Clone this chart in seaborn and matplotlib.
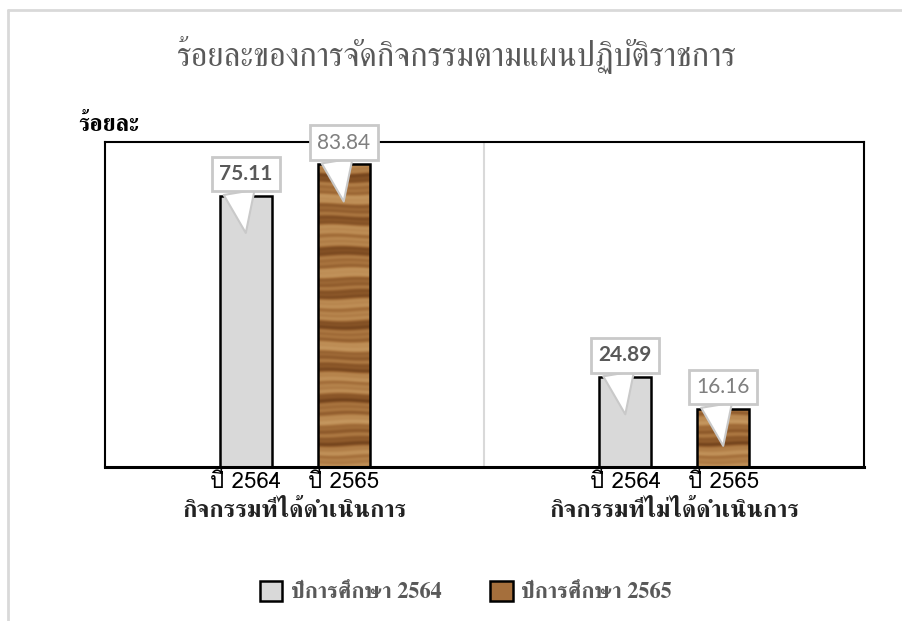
"""Recreate the Thai grouped bar chart of activity completion percentages."""

import matplotlib
matplotlib.use("Agg")

import numpy as np
import matplotlib.pyplot as plt
import pandas as pd
import seaborn as sns
from matplotlib import font_manager
from matplotlib.colors import LinearSegmentedColormap
from matplotlib.lines import Line2D
from matplotlib.patches import Rectangle

categories = ["กิจกรรมที่ได้ดำเนินการ", "กิจกรรมที่ไม่ได้ดำเนินการ"]
series_names = ["ปีการศึกษา 2564", "ปีการศึกษา 2565"]
short_names = ["ปี 2564", "ปี 2565"]
values_2564 = [75.11, 24.89]
values_2565 = [83.84, 16.16]
title = "ร้อยละของการจัดกิจกรรมตามแผนปฏิบัติราชการ"
y_label = "ร้อยละ"

GRAY_FILL = "#d9d9d9"
BROWN_FILL = "#9a6636"


def find_thai_fonts():
    """Return installed font families that contain Thai glyphs."""
    from fontTools.ttLib import TTFont
    found = []
    for entry in font_manager.fontManager.ttflist:
        if entry.name in found:
            continue
        try:
            font = TTFont(entry.fname, fontNumber=0, lazy=True)
            cmap = font.getBestCmap()
            if cmap and 0x0E01 in cmap:
                found.append(entry.name)
        except Exception:
            continue
    return found


def wood_texture(height, ncols=12):
    """Horizontal wood-grain bands, scaled in data units so short bars match tall ones."""
    y = np.linspace(0, height, max(int(height * 4), 8))
    x = np.linspace(0, 1, ncols)
    yy, xx = np.meshgrid(y, x, indexing="ij")
    yy = yy + 0.25 * np.sin(xx * 4.0 + yy * 0.15)
    bands = (0.55 + 0.18 * np.sin(yy * 0.61) + 0.14 * np.sin(yy * 1.53 + 1.1)
             + 0.07 * np.sin(yy * 3.7 + 0.4))
    return bands[::-1]


def main():
    sns.set_theme(style="white")
    thai = find_thai_fonts()
    serif_pref = [f for f in thai if "Serif" in f or "Looped" in f]
    sans_pref = [f for f in thai if f not in serif_pref]
    serif_family = serif_pref + sans_pref + ["DejaVu Serif"]
    sans_family = sans_pref + serif_pref + ["DejaVu Sans"]
    plt.rcParams["font.family"] = sans_family

    df = pd.DataFrame(
        {
            "category": categories * 2,
            "series": [series_names[0]] * 2 + [series_names[1]] * 2,
            "value": values_2564 + values_2565,
        }
    )

    fig = plt.figure(figsize=(9.03, 6.21), dpi=100)
    ax = fig.add_axes([105 / 903, 1 - 467 / 621, (864 - 105) / 903, (467 - 142) / 621])

    sns.barplot(
        data=df, x="category", y="value", hue="series", order=categories,
        hue_order=series_names, palette=[GRAY_FILL, BROWN_FILL],
        width=0.516, gap=0.47, edgecolor="black", linewidth=1.8,
        legend=False, ax=ax,
    )
    ax.set_ylim(0, 90)
    ax.set_xlim(-0.5, 1.5)
    ax.set_yticks([])
    ax.set_xticks([])
    ax.set_xlabel("")
    ax.set_ylabel("")
    for spine in ax.spines.values():
        spine.set_color("black")
        spine.set_linewidth(1.5)
    ax.spines["bottom"].set_linewidth(2.2)
    ax.axvline(0.5, color="#d9d9d9", lw=1.5, zorder=0)

    wood = LinearSegmentedColormap.from_list(
        "wood", ["#6a3c18", "#8a5628", "#a6713c", "#bb8a52", "#c79a62"])

    patches = list(ax.patches)
    n = len(categories)
    for i, patch in enumerate(patches):
        is_2565 = i >= n
        x0 = patch.get_x()
        w = patch.get_width()
        h = patch.get_height()
        cx = x0 + w / 2
        if is_2565:
            img = ax.imshow(wood_texture(h), cmap=wood, aspect="auto", interpolation="bilinear",
                            extent=(x0, x0 + w, 0, h), vmin=0.15, vmax=0.95,
                            zorder=patch.get_zorder())
            img.set_clip_path(patch)
            patch.set_facecolor("none")
            patch.set_zorder(patch.get_zorder() + 0.5)
        color = "#7f7f7f" if is_2565 else "#595959"
        weight = "normal" if is_2565 else "bold"
        ax.annotate(
            f"{h:.2f}", xy=(cx, h - 10.3), xytext=(cx, h + 6.0),
            ha="center", va="center", fontsize=15, color=color, fontweight=weight,
            family=["Lato", "DejaVu Sans"], zorder=6,
            bbox=dict(boxstyle="square,pad=0.35", fc="white", ec="#c9c9c9", lw=2),
            arrowprops=dict(arrowstyle="wedge,tail_width=1.5,shrink_factor=0.5",
                            fc="white", ec="#c9c9c9", lw=1.5, relpos=(0.35, 0),
                            shrinkA=0, shrinkB=0),
        )
        ax.text(cx, -1.5, short_names[1 if is_2565 else 0], ha="center", va="top",
                fontsize=16, color="black", family=sans_family)

    for j, cat in enumerate(categories):
        ax.text(j, -9.0, cat, ha="center", va="top", fontsize=17.5, fontweight="bold",
                color="#222222", family=serif_family)

    fig.text(457 / 903, 1 - 55 / 621, title, ha="center", va="center",
             fontsize=23.5, color="#595959", family=serif_family)
    fig.text(78 / 903, 1 - 125 / 621, y_label, ha="left", va="center",
             fontsize=17, fontweight="bold", color="black", family=serif_family)

    handles = [
        Rectangle((0, 0), 1, 1, fc=GRAY_FILL, ec="black", lw=1.8),
        Rectangle((0, 0), 1, 1, fc="#a56f3c", ec="black", lw=1.8),
    ]
    fig.legend(handles, series_names, loc="center", bbox_to_anchor=(466 / 903, 1 - 592 / 621),
               ncol=2, frameon=False, handlelength=1.0, handleheight=1.0,
               columnspacing=2.2, handletextpad=0.4,
               prop=font_manager.FontProperties(family=serif_family, size=16, weight="bold"),
               labelcolor="#595959")

    # outer chart border
    fig.add_artist(Line2D([8 / 903, 1], [1 - 10 / 621] * 2, color="#d9d9d9", lw=2))
    fig.add_artist(Line2D([8 / 903] * 2, [0, 1 - 10 / 621], color="#d9d9d9", lw=2))

    fig.savefig("out.png", dpi=100, facecolor="white")
    plt.close(fig)


if __name__ == "__main__":
    main()
